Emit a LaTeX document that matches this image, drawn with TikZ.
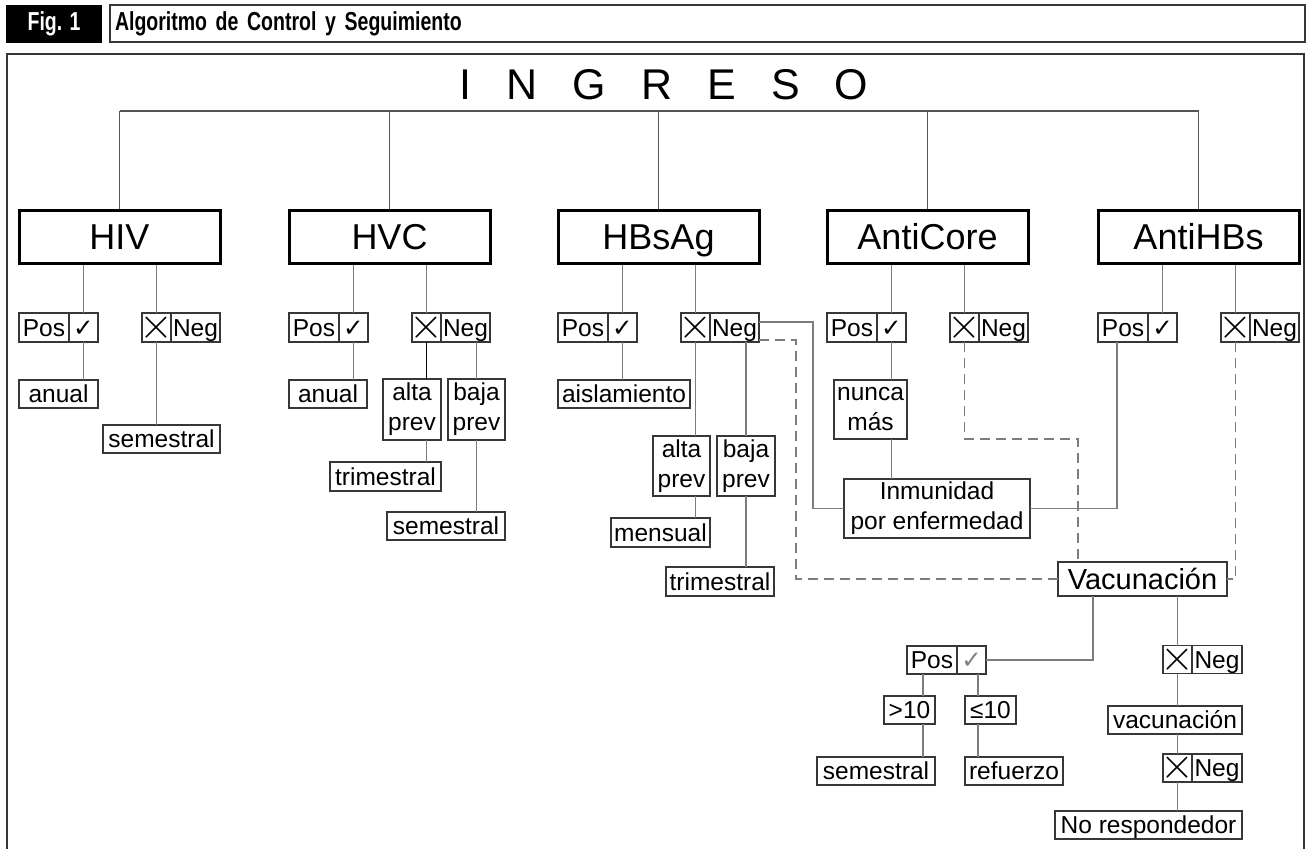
\documentclass[tikz,border=0pt]{standalone}
\usepackage{fontspec}
\usepackage{graphicx}
\setmainfont{Liberation Sans}
\newfontfamily\dejavu{DejaVu Sans}
\newfontfamily\headfont[FakeStretch=0.75]{Liberation Sans}
\usetikzlibrary{calc}
\definecolor{boxgray}{RGB}{55,55,55}
\definecolor{linegray}{RGB}{125,125,125}
\definecolor{bargray}{RGB}{85,85,85}
\newcommand{\okmark}{{\dejavu ✓}}
\newcommand{\nomark}{\makebox[20pt]{\raisebox{-2pt}{\scalebox{1.75}{$\times$}}}}
\newcommand{\ingap}{\hspace{35pt}}

\begin{document}
\begin{tikzpicture}[x=1pt,y=-1pt,
  topbox/.style={draw=black, line width=3pt, minimum width=201pt, minimum height=53pt, inner sep=0pt, text height=26pt, text depth=0pt, font=\fontsize{36}{36}\selectfont},
  base/.style={draw=boxgray, line width=1.2pt, inner sep=0pt, outer sep=0pt, font=\fontsize{24.5}{30}\selectfont},
  lbl/.style={base, minimum height=28pt, text height=17.5pt, text depth=0pt},
  twoline/.style={base, align=center},
  cell/.style={lbl, minimum height=29pt},
  conn/.style={draw=linegray, line width=1.2pt},
  dashconn/.style={conn, dash pattern=on 10pt off 6pt},
  bar/.style={draw=bargray, line width=1.4pt}]
\useasboundingbox (0,0) rectangle (1308,849);

% header
\node[fill=black, text=white, minimum width=96pt, minimum height=38pt, inner sep=0pt, font=\headfont\bfseries\fontsize{26}{26}\selectfont] (fig) at (54,24) {Fig. 1};
\node[draw=boxgray, line width=1.5pt, minimum height=37pt, text width=1185pt, inner xsep=5pt, inner ysep=0pt, align=left, font=\headfont\bfseries\fontsize{26}{26}\selectfont] (title) at (707.5,23.5) {Algoritmo de Control y Seguimiento};
\draw[draw=boxgray, line width=1.5pt] (7,849) -- (7,54) -- (1304,54) -- (1304,849);

\node[font=\fontsize{43}{43}\selectfont] (ingreso) at (664,84.5) {I\ingap N\ingap G\ingap R\ingap E\ingap S\ingap O};
\coordinate (bar) at (0,111);
\draw[bar] (120,111) -- (1198.5,111);

% five tests
\foreach \n/\l/\t in {hiv/19/HIV, hvc/289/HVC, hbs/558/HBsAg, ac/827/AntiCore, ah/1098/AntiHBs}{
  \node[topbox] (\n) at ({\l+100.5},236.5) {\t};
  \draw[bar] (\n.north |- bar) -- (\n.north);
  \node[cell, minimum width=50pt] (\n-pos) at ({\l+25},327.5) {Pos};
  \node[cell, minimum width=29pt, anchor=west] (\n-ok) at (\n-pos.east) {\okmark};
  \node[cell, minimum width=29pt] (\n-x) at ({\l+137.5},327.5) {\nomark};
  \node[cell, minimum width=49pt, anchor=west] (\n-neg) at (\n-x.east) {Neg};
  \draw[conn] (\n-ok.north |- \n.south) -- (\n-ok.north);
  \draw[conn] (\n-x.north |- \n.south) -- (\n-x.north);
}

% HIV
\node[lbl, minimum width=79pt] (hiv-anual) at (58.5,394) {anual};
\node[lbl, minimum width=117pt] (hiv-sem) at (161.5,439) {semestral};
\draw[conn] (hiv-ok.south) -- (hiv-ok.south |- hiv-anual.north);
\draw[conn] (hiv-x.south) -- (hiv-x.south |- hiv-sem.north);

% HVC
\node[lbl, minimum width=78pt] (hvc-anual) at (328,394) {anual};
\node[twoline, minimum width=58pt, minimum height=61pt] (hvc-alta) at (412,409.5) {alta\\prev};
\node[twoline, minimum width=57pt, minimum height=61pt] (hvc-baja) at (476.5,409.5) {baja\\prev};
\node[lbl, minimum width=111pt, minimum height=29pt] (hvc-tri) at (385.5,476.5) {trimestral};
\node[lbl, minimum width=118pt] (hvc-sem) at (446,526) {semestral};
\draw[conn] (hvc-ok.south) -- (hvc-ok.south |- hvc-anual.north);
\draw[conn, draw=black, line width=1.8pt] (hvc-x.south) -- (hvc-x.south |- hvc-alta.north);
\draw[conn] (hvc-x.south |- hvc-alta.south) -- (hvc-x.south |- hvc-tri.north);
\draw[conn] (hvc-baja.north |- hvc-neg.south) -- (hvc-baja.north);
\draw[conn] (hvc-baja.south) -- (hvc-baja.south |- hvc-sem.north);

% HBsAg
\node[lbl, minimum width=132pt] (hbs-ais) at (624,394) {aislamiento};
\node[twoline, minimum width=57pt, minimum height=60pt] (hbs-alta) at (681.5,466) {alta\\prev};
\node[twoline, minimum width=58pt, minimum height=60pt] (hbs-baja) at (746,466) {baja\\prev};
\node[lbl, minimum width=99pt, minimum height=29pt] (hbs-men) at (660.5,532.5) {mensual};
\node[lbl, minimum width=108pt, minimum height=29pt] (hbs-tri) at (720,581.5) {trimestral};
\draw[conn] (hbs-ok.south) -- (hbs-ok.south |- hbs-ais.north);
\draw[conn] (hbs-x.south) -- (hbs-x.south |- hbs-alta.north);
\draw[conn] (hbs-x.south |- hbs-alta.south) -- (hbs-x.south |- hbs-men.north);
\draw[conn] (hbs-baja.north |- hbs-neg.south) -- (hbs-baja.north);
\draw[conn] (hbs-baja.south) -- (hbs-baja.south |- hbs-tri.north);

% AntiCore
\node[twoline, minimum width=73pt, minimum height=59pt] (ac-nunca) at (870.5,409.5) {nunca\\más};
\node[twoline, minimum width=186pt, minimum height=59pt] (inm) at (937,508.5) {Inmunidad\\por enfermedad};
\node[lbl, minimum width=169pt, minimum height=34pt, text height=21pt, font=\fontsize{29}{29}\selectfont] (vac) at (1142.5,579) {Vacunación};
\draw[conn] (ac-ok.south) -- (ac-ok.south |- ac-nunca.north);
\draw[conn] (ac-ok.south |- ac-nunca.south) -- (ac-ok.south |- inm.north);

% links to Inmunidad and Vacunacion
\coordinate (hbsbend) at (813,0);
\coordinate (hbsdash) at (796,0);
\coordinate (acbend) at (1078,439);
\draw[conn] ([yshift=5.5pt]hbs-neg.east) -| (hbsbend |- inm.west) -- (inm.west);
\draw[dashconn] ([yshift=-12.5pt]hbs-neg.east) -| (hbsdash |- vac.west) -- (vac.west);
\draw[dashconn] (ac-x.south) |- (acbend) -- (acbend |- vac.north);
\draw[conn] ([xshift=-6pt]ah-pos.south) |- (inm.east);
\draw[dashconn] (ah-x.south) |- (vac.east);

% Vacunacion results
\node[cell, minimum width=50pt, minimum height=28pt] (v-pos) at (932,660) {Pos};
\node[cell, minimum width=29pt, minimum height=28pt, anchor=west, text=gray] (v-ok) at (v-pos.east) {\okmark};
\node[cell, minimum width=29pt, minimum height=28pt] (v-x) at (1177.5,659.5) {\nomark};
\node[cell, minimum width=50pt, minimum height=28pt, anchor=west] (v-neg) at (v-x.east) {Neg};
\node[lbl, minimum width=51pt] (v-gt) at (909.5,710) {>10};
\node[lbl, minimum width=51pt] (v-le) at (990.5,710) {≤10};
\node[lbl, minimum width=118pt] (v-sem) at (876,771) {semestral};
\node[lbl, minimum width=98pt] (v-ref) at (1014,771) {refuerzo};
\node[lbl, minimum width=134pt] (v-vac) at (1175,720) {vacunación};
\node[cell, minimum width=29pt, minimum height=28pt] (v-x2) at (1177.5,768) {\nomark};
\node[cell, minimum width=50pt, minimum height=28pt, anchor=west] (v-neg2) at (v-x2.east) {Neg};
\node[lbl, minimum width=187pt] (v-nr) at (1148.5,825) {No respondedor};

\coordinate (vacdrop) at (1093,0);
\coordinate (gtline) at (923,0);
\coordinate (leline) at (978,0);
\draw[conn] (vacdrop |- vac.south) |- (v-ok.east);
\draw[conn] (v-x.north |- vac.south) -- (v-x.north);
\draw[conn] (v-x.south) -- (v-x.south |- v-vac.north);
\draw[conn] (v-x.south |- v-vac.south) -- (v-x2.north);
\draw[conn] (v-x2.south) -- (v-x2.south |- v-nr.north);
\draw[conn] (gtline |- v-pos.south) -- (gtline |- v-gt.north);
\draw[conn] (gtline |- v-gt.south) -- (gtline |- v-sem.north);
\draw[conn] (leline |- v-ok.south) -- (leline |- v-le.north);
\draw[conn] (leline |- v-le.south) -- (leline |- v-ref.north);
\end{tikzpicture}
\end{document}
